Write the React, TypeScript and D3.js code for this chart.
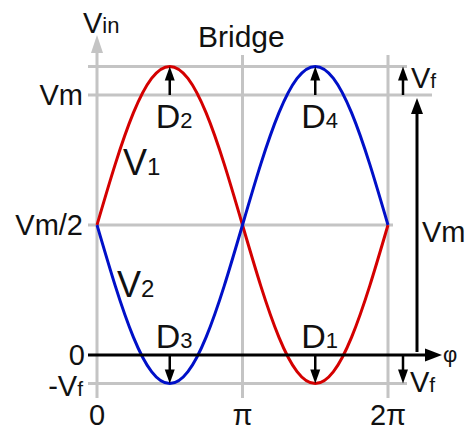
import React from "react";
import * as d3 from "d3";

// Phase samples in units of π, and the two transformer half-winding voltages (Vm = 10, Vf = 1.1)
const phase = [0, 0.125, 0.25, 0.375, 0.5, 0.625, 0.75, 0.875, 1, 1.125, 1.25, 1.375, 1.5, 1.625, 1.75, 1.875, 2];
const v1 = [5, 7.33, 9.31, 10.64, 11.1, 10.64, 9.31, 7.33, 5, 2.67, 0.69, -0.64, -1.1, -0.64, 0.69, 2.67, 5];
const v2 = [5, 2.67, 0.69, -0.64, -1.1, -0.64, 0.69, 2.67, 5, 7.33, 9.31, 10.64, 11.1, 10.64, 9.31, 7.33, 5];

const VM = 10;
const VF = 1.1;

// Reference levels on the voltage axis
const levels = [
  { value: VM + VF, label: "" },
  { value: VM, label: "Vm" },
  { value: VM / 2, label: "Vm/2" },
  { value: -VF, label: "-Vf" },
];
const phaseTicks = [
  { value: 0, label: "0" },
  { value: 1, label: "π" },
  { value: 2, label: "2π" },
];
// Diode conduction markers: phase of the peak, and whether the arrow points up
const diodes = [
  { phase: 0.5, up: true, name: "D", sub: "2" },
  { phase: 1.5, up: true, name: "D", sub: "4" },
  { phase: 0.5, up: false, name: "D", sub: "3" },
  { phase: 1.5, up: false, name: "D", sub: "1" },
];

const W = 468;
const H = 430;
const FONT = "'Liberation Sans', Arial, sans-serif";
const GRID = "#c4c4c4";
const RED = "#d40000";
const BLUE = "#0010c8";

const x = d3.scaleLinear().domain([0, 2]).range([97, 388]);
const y = d3.scaleLinear().domain([0, VM]).range([355, 95]);

const line = d3
  .line<number>()
  .x((_, i) => x(phase[i]))
  .y((d) => y(d))
  .curve(d3.curveNatural);

function Arrow({ x1, y1, x2, y2, color, w, head, hw }: any) {
  // shaft from (x1,y1) to tip (x2,y2)
  const dx = x2 - x1;
  const dy = y2 - y1;
  const len = Math.hypot(dx, dy);
  const ux = dx / len;
  const uy = dy / len;
  const bx = x2 - ux * head;
  const by = y2 - uy * head;
  const px = -uy * hw;
  const py = ux * hw;
  return (
    <g>
      <line x1={x1} y1={y1} x2={bx + ux * 2} y2={by + uy * 2} stroke={color} strokeWidth={w} />
      <path d={`M${x2},${y2}L${bx + px},${by + py}L${bx - px},${by - py}Z`} fill={color} />
    </g>
  );
}

function Sub({ x: tx, y: ty, main, sub, size = 29, subSize = 21, anchor = "start" }: any) {
  return (
    <text x={tx} y={ty} fontFamily={FONT} fontSize={size} fill="#111" textAnchor={anchor}>
      {main}
      <tspan fontSize={subSize}>{sub}</tspan>
    </text>
  );
}

export default function App() {
  const yTop = y(VM + VF);
  const yVm = y(VM);
  const y0 = y(0);
  const yNeg = y(-VF);
  return (
    <svg
      width={W}
      height={H}
      style={{ position: "absolute", left: 0, top: 0, background: "#fff" }}
    >
      {/* grid lines at the reference levels */}
      <line x1={88} x2={407} y1={yTop} y2={yTop} stroke={GRID} strokeWidth={3} />
      <line x1={88} x2={432} y1={yVm} y2={yVm} stroke={GRID} strokeWidth={3} />
      <line x1={88} x2={393} y1={y(VM / 2)} y2={y(VM / 2)} stroke={GRID} strokeWidth={3} />
      <line x1={88} x2={407} y1={yNeg} y2={yNeg} stroke={GRID} strokeWidth={3} />
      {/* vertical phase grid */}
      <line x1={x(1)} x2={x(1)} y1={55} y2={398} stroke={GRID} strokeWidth={3} />
      <line x1={x(2)} x2={x(2)} y1={55} y2={398} stroke={GRID} strokeWidth={3} />
      {/* voltage axis */}
      <Arrow x1={x(0)} y1={398} x2={x(0)} y2={35} color={GRID} w={3} head={18} hw={6} />

      {/* waveforms */}
      <path d={line(v1) || ""} fill="none" stroke={RED} strokeWidth={3} />
      <path d={line(v2) || ""} fill="none" stroke={BLUE} strokeWidth={3} />

      {/* phase axis */}
      <Arrow x1={88} y1={y0} x2={442} y2={y0} color="#000" w={3} head={17} hw={6.5} />
      {/* Vm span arrow */}
      <Arrow x1={417} y1={y0 - 3} x2={417} y2={yVm + 3} color="#000" w={3} head={16} hw={6} />
      {/* Vf arrows */}
      <Arrow x1={403} y1={yVm} x2={403} y2={yTop} color="#000" w={2.5} head={14} hw={5} />
      <Arrow x1={403} y1={y0} x2={403} y2={yNeg} color="#000" w={2.5} head={14} hw={5} />
      {/* diode forward drops */}
      {diodes.map((d, i) => (
        <Arrow
          key={i}
          x1={x(d.phase)}
          y1={d.up ? yVm : y0}
          x2={x(d.phase)}
          y2={d.up ? yTop : yNeg}
          color="#000"
          w={2.5}
          head={14}
          hw={5}
        />
      ))}
      {diodes.map((d, i) => (
        <Sub
          key={"l" + i}
          x={x(d.phase) - 14}
          y={d.up ? 128 : 348}
          main={d.name}
          sub={d.sub}
          size={34}
          subSize={22}
        />
      ))}

      {/* level labels */}
      {levels
        .filter((l) => l.label)
        .map((l, i) =>
          l.label === "-Vf" ? (
            <Sub key={i} x={83} y={y(l.value) + 12} main="-V" sub="f" anchor="end" />
          ) : (
            <text
              key={i}
              x={83}
              y={y(l.value) + 10}
              fontFamily={FONT}
              fontSize={29}
              fill="#111"
              textAnchor="end"
            >
              {l.label}
            </text>
          )
        )}
      <text x={85} y={y0 + 10} fontFamily={FONT} fontSize={29} fill="#111" textAnchor="end">
        0
      </text>
      {phaseTicks.map((t, i) => (
        <text
          key={i}
          x={x(t.value)}
          y={425}
          fontFamily={FONT}
          fontSize={29}
          fill="#111"
          textAnchor="middle"
        >
          {t.label}
        </text>
      ))}

      {/* titles and names */}
      <Sub x={83} y={33} main="V" sub="in" subSize={22} />
      <text x={198} y={47} fontFamily={FONT} fontSize={30} fill="#111">
        Bridge
      </text>
      <Sub x={123} y={175} main="V" sub="1" size={36} subSize={24} />
      <Sub x={117} y={297} main="V" sub="2" size={36} subSize={24} />
      <Sub x={411} y={88} main="V" sub="f" />
      <Sub x={410} y={392} main="V" sub="f" />
      <text x={422} y={242} fontFamily={FONT} fontSize={29} fill="#111">
        Vm
      </text>
      <text x={443} y={362} fontFamily={FONT} fontSize={22} fill="#111">
        φ
      </text>
    </svg>
  );
}
